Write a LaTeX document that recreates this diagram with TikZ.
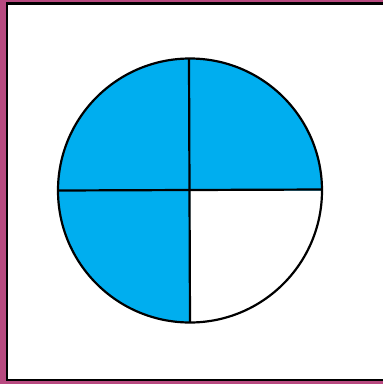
\documentclass[tikz,border=0pt]{standalone}
\usepackage{tikz}
\definecolor{framepink}{RGB}{184,74,128}
\definecolor{pieblue}{RGB}{0,174,239}
\tikzset{
  piece/.style={fill=pieblue},
  edge/.style={draw=black, line width=2.2pt, line join=round}
}
\begin{document}
\begin{tikzpicture}[x=1pt,y=-1pt]
    \useasboundingbox (0,0) rectangle (383,384);

    % Fondo y marco
    \fill[framepink] (0,0) rectangle (383,384);
    \draw[fill=white, line width=2.4pt] (7,3.5) rectangle (390,380);

    % Centro del circulo
    \coordinate (C) at (190,190.5);

    % Cuartos rellenos
    \fill[piece] (C) -- ++(-132,0) arc[start angle=180, end angle=270, radius=132] -- cycle;
    \fill[piece] (C) -- ++(0,-132) arc[start angle=270, end angle=360, radius=132] -- cycle;
    \fill[piece] (C) -- ++(-132,0) arc[start angle=180, end angle=90, radius=132] -- cycle;

    % Contorno y divisiones
    \draw[edge] (C) circle[radius=132];
    \draw[edge] (189,58.5) -- (190,322.5);
    \draw[edge] (58,190.5) -- (322,189.5);

\end{tikzpicture}
\end{document}
